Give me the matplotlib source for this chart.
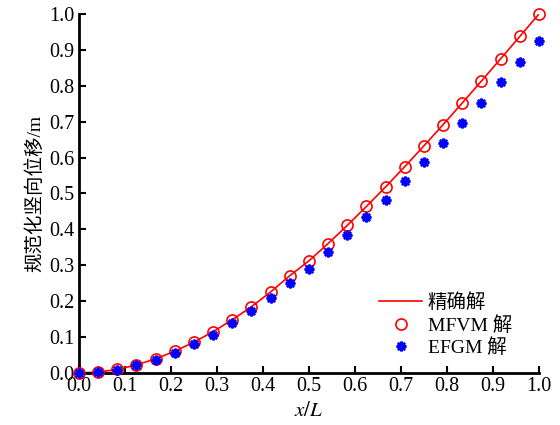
import numpy as np
import matplotlib
matplotlib.use("Agg")
import matplotlib.pyplot as plt

plt.rcParams['font.family'] = ['Liberation Serif', 'Noto Sans CJK SC']
plt.rcParams['mathtext.fontset'] = 'stix'

# node positions x/L
x_nodes = [0.0, 0.0417, 0.0833, 0.125, 0.1667, 0.2083, 0.25, 0.2917, 0.3333,
           0.375, 0.4167, 0.4583, 0.5, 0.5417, 0.5833, 0.625, 0.6667, 0.7083,
           0.75, 0.7917, 0.8333, 0.875, 0.9167, 0.9583, 1.0]

# exact solution (red line)
exact_y = [0.0, 0.0025, 0.0098, 0.0225, 0.0394, 0.0606, 0.0859, 0.1152, 0.1481,
           0.1846, 0.2257, 0.2710, 0.3125, 0.3606, 0.4112, 0.4639, 0.5185, 0.5749,
           0.6328, 0.6920, 0.7523, 0.8135, 0.8753, 0.9375, 1.0]

# MFVM solution (red circles)
mfvm_y = [0.0, 0.0025, 0.0098, 0.0225, 0.0394, 0.0606, 0.0859, 0.1152, 0.1481,
          0.1846, 0.2257, 0.2710, 0.3125, 0.3606, 0.4112, 0.4639, 0.5185, 0.5749,
          0.6328, 0.6920, 0.7523, 0.8135, 0.8753, 0.9375, 1.0]

# EFGM solution (blue stars)
efgm_y = [0.0, 0.0024, 0.0092, 0.021, 0.037, 0.056, 0.080, 0.107, 0.138,
          0.172, 0.210, 0.251, 0.291, 0.336, 0.383, 0.434, 0.482, 0.534,
          0.587, 0.641, 0.696, 0.752, 0.811, 0.867, 0.926]

ticks = [0.0, 0.1, 0.2, 0.3, 0.4, 0.5, 0.6, 0.7, 0.8, 0.9, 1.0]

fig = plt.figure(figsize=(5.6, 4.25), dpi=100)
ax = fig.add_axes([0.141, 0.1224, 0.8215, 0.8447])

ax.plot(x_nodes, exact_y, color='red', lw=1.2, label='精确解', zorder=2)
ax.plot(x_nodes, mfvm_y, ls='none', marker='o', ms=8, mfc='none', mec='red',
        mew=1.2, label='MFVM 解', zorder=3, clip_on=False)
ax.plot(x_nodes, efgm_y, ls='none', marker=(8, 2, 0), ms=7, color='blue',
        mew=1.8, label='EFGM 解', zorder=4, clip_on=False)

ax.set_xlim(0, 1)
ax.set_ylim(0, 1)
ax.set_xticks(ticks)
ax.set_yticks(ticks)
ax.set_xticklabels([f'{t:.1f}' for t in ticks])
ax.set_yticklabels([f'{t:.1f}' for t in ticks])
ax.tick_params(direction='in', length=5, width=1.5, labelsize=14.5, pad=3)

for s in ['top', 'right']:
    ax.spines[s].set_visible(False)
for s in ['left', 'bottom']:
    ax.spines[s].set_linewidth(2)

ax.set_xlabel('$x/L$', fontsize=15, labelpad=4)
ax.set_ylabel('规范化竖向位移/m', fontsize=14, labelpad=4)

ax.legend(loc='lower right', bbox_to_anchor=(0.98, -0.005), frameon=False,
          fontsize=14, handlelength=2.2, labelspacing=0.2, handletextpad=0.3)

fig.savefig('out.png', dpi=100)
